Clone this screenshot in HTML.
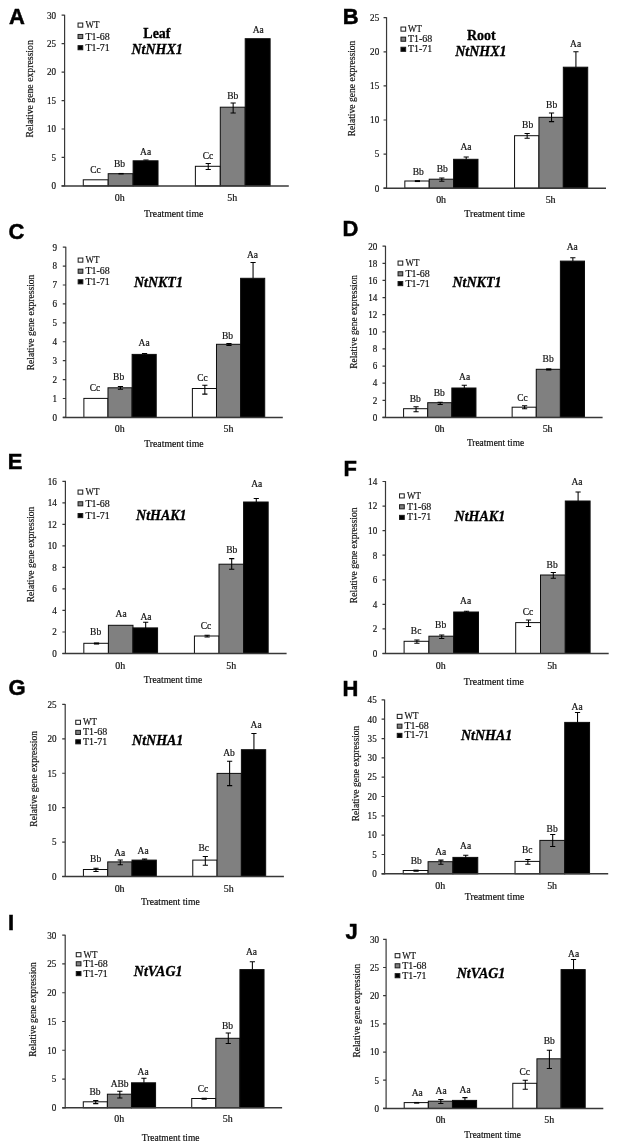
<!DOCTYPE html>
<html><head><meta charset="utf-8"><title>Figure</title>
<style>
html,body{margin:0;padding:0;background:#fff}
svg{display:block;will-change:transform}
text{fill:#111;stroke:#111;stroke-width:0.18px}
.r{font-family:"Liberation Serif", "Times New Roman", serif;font-size:9.3px}
.t{font-family:"Liberation Serif", "Times New Roman", serif;font-size:14px;font-weight:bold;fill:#000;stroke:#000;stroke-width:0.3px}
.bi{font-style:italic}
.yl{font-size:9.3px}
.L{font-family:"Liberation Sans", Arial, sans-serif;font-size:22.9px;font-weight:bold;fill:#000;stroke:#000;stroke-width:0.5px}
</style></head><body>
<svg width="633" height="1146" viewBox="0 0 633 1146">
<rect width="633" height="1146" fill="#fff"/>
<g><rect x="83.28" y="179.8" width="24.91" height="6.1" fill="#ffffff" stroke="#0d0d0d" stroke-width="1.0"/>
<rect x="108.19" y="173.7" width="24.91" height="12.2" fill="#808080" stroke="#0d0d0d" stroke-width="1.0"/>
<rect x="133.11" y="160.8" width="24.91" height="25.1" fill="#000000" stroke="#0d0d0d" stroke-width="1.0"/>
<rect x="195.38" y="166.3" width="24.91" height="19.6" fill="#ffffff" stroke="#0d0d0d" stroke-width="1.0"/>
<rect x="220.29" y="107.2" width="24.91" height="78.7" fill="#808080" stroke="#0d0d0d" stroke-width="1.0"/>
<rect x="245.21" y="38.7" width="24.91" height="147.2" fill="#000000" stroke="#0d0d0d" stroke-width="1.0"/>
<path d="M118.45 173.7H123.65" fill="none" stroke="#000" stroke-width="1.5"/>
<path d="M145.96 160V160.8M143.36 160H148.56" fill="none" stroke="#000" stroke-width="1.05"/>
<path d="M208.24 163.5V169.4M205.64 163.5H210.84M205.64 169.4H210.84" fill="none" stroke="#000" stroke-width="1.05"/>
<path d="M233.15 102.9V113M230.55 102.9H235.75M230.55 113H235.75" fill="none" stroke="#000" stroke-width="1.05"/>
<path d="M64.6 14.7V186.5M61.6 185.9H64.6M61.6 157.45H64.6M61.6 129H64.6M61.6 100.55H64.6M61.6 72.1H64.6M61.6 43.65H64.6M61.6 15.2H64.6" fill="none" stroke="#383838" stroke-width="1.2"/>
<path d="M61.6 185.9H288.8" fill="none" stroke="#383838" stroke-width="1.45"/>
<text class="r" text-anchor="end" transform="translate(56.1 189.2) scale(0.98 1)">0</text>
<text class="r" text-anchor="end" transform="translate(56.1 160.75) scale(0.98 1)">5</text>
<text class="r" text-anchor="end" transform="translate(56.1 132.3) scale(0.98 1)">10</text>
<text class="r" text-anchor="end" transform="translate(56.1 103.85) scale(0.98 1)">15</text>
<text class="r" text-anchor="end" transform="translate(56.1 75.4) scale(0.98 1)">20</text>
<text class="r" text-anchor="end" transform="translate(56.1 46.95) scale(0.98 1)">25</text>
<text class="r" text-anchor="end" transform="translate(56.1 18.5) scale(0.98 1)">30</text>
<rect x="78.05" y="23.05" width="4.7" height="4.1" fill="#ffffff" stroke="#1a1a1a" stroke-width="1"/>
<text class="r" text-anchor="start" transform="translate(85.5 28.15) scale(0.96 1)">WT</text>
<rect x="78.05" y="34.45" width="4.7" height="4.1" fill="#808080" stroke="#1a1a1a" stroke-width="1"/>
<text class="r" text-anchor="start" transform="translate(85.5 39.55) scale(1.07 1)">T1-68</text>
<rect x="78.05" y="45.65" width="4.7" height="4.1" fill="#000000" stroke="#1a1a1a" stroke-width="1"/>
<text class="r" text-anchor="start" transform="translate(85.5 50.75) scale(1.07 1)">T1-71</text>
<text class="t b" text-anchor="middle" transform="translate(156.9 38) scale(1 1)">Leaf</text>
<text class="t bi" text-anchor="middle" transform="translate(157.1 54.4) scale(1 1)">NtNHX1</text>
<text class="r" text-anchor="middle" transform="translate(95.4 173.4) scale(1.02 1)">Cc</text>
<text class="r" text-anchor="middle" transform="translate(119.4 167.3) scale(1.02 1)">Bb</text>
<text class="r" text-anchor="middle" transform="translate(145.6 154.5) scale(1.02 1)">Aa</text>
<text class="r" text-anchor="middle" transform="translate(207.9 159.3) scale(1.02 1)">Cc</text>
<text class="r" text-anchor="middle" transform="translate(232.7 98.6) scale(1.02 1)">Bb</text>
<text class="r" text-anchor="middle" transform="translate(258.3 32.9) scale(1.02 1)">Aa</text>
<text class="r" text-anchor="middle" transform="translate(119.7 200.5) scale(1.07 1)">0h</text>
<text class="r" text-anchor="middle" transform="translate(232.2 200.5) scale(1.07 1)">5h</text>
<text class="r" text-anchor="middle" transform="translate(173.7 217.2) scale(1.05 1)">Treatment time</text>
<text class="r yl" text-anchor="middle" transform="translate(32.8 88.9) rotate(-90) scale(1.05 1)">Relative gene expression</text>
<text class="L" text-anchor="start" transform="translate(9.1 23.7) scale(0.96 1)">A</text></g>
<g><rect x="404.84" y="181" width="24.38" height="7.2" fill="#ffffff" stroke="#0d0d0d" stroke-width="1.0"/>
<rect x="429.22" y="179.2" width="24.38" height="9" fill="#808080" stroke="#0d0d0d" stroke-width="1.0"/>
<rect x="453.6" y="159.3" width="24.38" height="28.9" fill="#000000" stroke="#0d0d0d" stroke-width="1.0"/>
<rect x="514.56" y="135.7" width="24.38" height="52.5" fill="#ffffff" stroke="#0d0d0d" stroke-width="1.0"/>
<rect x="538.95" y="117.3" width="24.38" height="70.9" fill="#808080" stroke="#0d0d0d" stroke-width="1.0"/>
<rect x="563.33" y="67.2" width="24.38" height="121" fill="#000000" stroke="#0d0d0d" stroke-width="1.0"/>
<path d="M414.83 181.1H420.03" fill="none" stroke="#000" stroke-width="1.9"/>
<path d="M441.81 178V181.2M439.21 178H444.41M439.21 181.2H444.41" fill="none" stroke="#000" stroke-width="1.05"/>
<path d="M466.2 157V159.3M463.6 157H468.8" fill="none" stroke="#000" stroke-width="1.05"/>
<path d="M527.15 133.5V138.3M524.55 133.5H529.75M524.55 138.3H529.75" fill="none" stroke="#000" stroke-width="1.05"/>
<path d="M551.54 113V121.6M548.94 113H554.14M548.94 121.6H554.14" fill="none" stroke="#000" stroke-width="1.05"/>
<path d="M575.92 51.8V67.2M573.32 51.8H578.52" fill="none" stroke="#000" stroke-width="1.05"/>
<path d="M386.55 17.2V188.8M383.55 188.2H386.55M383.55 154.1H386.55M383.55 120H386.55M383.55 85.9H386.55M383.55 51.8H386.55M383.55 17.7H386.55" fill="none" stroke="#383838" stroke-width="1.2"/>
<path d="M383.55 188.2H606" fill="none" stroke="#383838" stroke-width="1.45"/>
<text class="r" text-anchor="end" transform="translate(379.2 191.5) scale(0.98 1)">0</text>
<text class="r" text-anchor="end" transform="translate(379.2 157.4) scale(0.98 1)">5</text>
<text class="r" text-anchor="end" transform="translate(379.2 123.3) scale(0.98 1)">10</text>
<text class="r" text-anchor="end" transform="translate(379.2 89.2) scale(0.98 1)">15</text>
<text class="r" text-anchor="end" transform="translate(379.2 55.1) scale(0.98 1)">20</text>
<text class="r" text-anchor="end" transform="translate(379.2 21) scale(0.98 1)">25</text>
<rect x="400.95" y="27.05" width="4.7" height="4.1" fill="#ffffff" stroke="#1a1a1a" stroke-width="1"/>
<text class="r" text-anchor="start" transform="translate(408 32.15) scale(0.96 1)">WT</text>
<rect x="400.95" y="37.15" width="4.7" height="4.1" fill="#808080" stroke="#1a1a1a" stroke-width="1"/>
<text class="r" text-anchor="start" transform="translate(408 42.25) scale(1.07 1)">T1-68</text>
<rect x="400.95" y="47.25" width="4.7" height="4.1" fill="#000000" stroke="#1a1a1a" stroke-width="1"/>
<text class="r" text-anchor="start" transform="translate(408 52.35) scale(1.07 1)">T1-71</text>
<text class="t b" text-anchor="middle" transform="translate(481.3 39.9) scale(1 1)">Root</text>
<text class="t bi" text-anchor="middle" transform="translate(480.8 55.6) scale(1 1)">NtNHX1</text>
<text class="r" text-anchor="middle" transform="translate(418.3 174.7) scale(1.02 1)">Bb</text>
<text class="r" text-anchor="middle" transform="translate(442.3 172.4) scale(1.02 1)">Bb</text>
<text class="r" text-anchor="middle" transform="translate(465.9 150.4) scale(1.02 1)">Aa</text>
<text class="r" text-anchor="middle" transform="translate(527.6 127.7) scale(1.02 1)">Bb</text>
<text class="r" text-anchor="middle" transform="translate(551.6 107.7) scale(1.02 1)">Bb</text>
<text class="r" text-anchor="middle" transform="translate(575.6 47.3) scale(1.02 1)">Aa</text>
<text class="r" text-anchor="middle" transform="translate(441.1 203) scale(1.07 1)">0h</text>
<text class="r" text-anchor="middle" transform="translate(550.6 203) scale(1.07 1)">5h</text>
<text class="r" text-anchor="middle" transform="translate(494.7 217.2) scale(1.07 1)">Treatment time</text>
<text class="r yl" text-anchor="middle" transform="translate(354.8 88.5) rotate(-90) scale(1.03 1)">Relative gene expression</text>
<text class="L" text-anchor="start" transform="translate(342.77 23.7) scale(0.96 1)">B</text></g>
<g><rect x="83.88" y="398.4" width="24.11" height="19" fill="#ffffff" stroke="#0d0d0d" stroke-width="1.0"/>
<rect x="107.99" y="387.8" width="24.11" height="29.6" fill="#808080" stroke="#0d0d0d" stroke-width="1.0"/>
<rect x="132.11" y="354.4" width="24.11" height="63" fill="#000000" stroke="#0d0d0d" stroke-width="1.0"/>
<rect x="192.38" y="388.5" width="24.11" height="28.9" fill="#ffffff" stroke="#0d0d0d" stroke-width="1.0"/>
<rect x="216.49" y="344.3" width="24.11" height="73.1" fill="#808080" stroke="#0d0d0d" stroke-width="1.0"/>
<rect x="240.61" y="278.3" width="24.11" height="139.1" fill="#000000" stroke="#0d0d0d" stroke-width="1.0"/>
<path d="M120.45 386.5V389.3M117.85 386.5H123.05M117.85 389.3H123.05" fill="none" stroke="#000" stroke-width="1.05"/>
<path d="M144.56 353.4V354.4M141.96 353.4H147.16" fill="none" stroke="#000" stroke-width="1.05"/>
<path d="M204.84 385.2V394.1M202.24 385.2H207.44M202.24 394.1H207.44" fill="none" stroke="#000" stroke-width="1.05"/>
<path d="M228.95 343.6V345.5M226.35 343.6H231.55M226.35 345.5H231.55" fill="none" stroke="#000" stroke-width="1.05"/>
<path d="M253.06 262.4V278.3M250.46 262.4H255.66" fill="none" stroke="#000" stroke-width="1.05"/>
<path d="M65.8 246.7V418M62.8 417.4H65.8M62.8 398.49H65.8M62.8 379.58H65.8M62.8 360.67H65.8M62.8 341.76H65.8M62.8 322.84H65.8M62.8 303.93H65.8M62.8 285.02H65.8M62.8 266.11H65.8M62.8 247.2H65.8" fill="none" stroke="#383838" stroke-width="1.2"/>
<path d="M62.8 417.4H282.8" fill="none" stroke="#383838" stroke-width="1.45"/>
<text class="r" text-anchor="end" transform="translate(57.1 420.7) scale(0.98 1)">0</text>
<text class="r" text-anchor="end" transform="translate(57.1 401.79) scale(0.98 1)">1</text>
<text class="r" text-anchor="end" transform="translate(57.1 382.88) scale(0.98 1)">2</text>
<text class="r" text-anchor="end" transform="translate(57.1 363.97) scale(0.98 1)">3</text>
<text class="r" text-anchor="end" transform="translate(57.1 345.06) scale(0.98 1)">4</text>
<text class="r" text-anchor="end" transform="translate(57.1 326.14) scale(0.98 1)">5</text>
<text class="r" text-anchor="end" transform="translate(57.1 307.23) scale(0.98 1)">6</text>
<text class="r" text-anchor="end" transform="translate(57.1 288.32) scale(0.98 1)">7</text>
<text class="r" text-anchor="end" transform="translate(57.1 269.41) scale(0.98 1)">8</text>
<text class="r" text-anchor="end" transform="translate(57.1 250.5) scale(0.98 1)">9</text>
<rect x="78.15" y="258.05" width="4.7" height="4.1" fill="#ffffff" stroke="#1a1a1a" stroke-width="1"/>
<text class="r" text-anchor="start" transform="translate(85.5 263.15) scale(0.96 1)">WT</text>
<rect x="78.15" y="269.15" width="4.7" height="4.1" fill="#808080" stroke="#1a1a1a" stroke-width="1"/>
<text class="r" text-anchor="start" transform="translate(85.5 274.25) scale(1.07 1)">T1-68</text>
<rect x="78.15" y="279.75" width="4.7" height="4.1" fill="#000000" stroke="#1a1a1a" stroke-width="1"/>
<text class="r" text-anchor="start" transform="translate(85.5 284.85) scale(1.07 1)">T1-71</text>
<text class="t bi" text-anchor="middle" transform="translate(158.4 287.4) scale(1 1)">NtNKT1</text>
<text class="r" text-anchor="middle" transform="translate(95 391.3) scale(1.02 1)">Cc</text>
<text class="r" text-anchor="middle" transform="translate(118.6 380.4) scale(1.02 1)">Bb</text>
<text class="r" text-anchor="middle" transform="translate(144.1 346.3) scale(1.02 1)">Aa</text>
<text class="r" text-anchor="middle" transform="translate(202.5 380.9) scale(1.02 1)">Cc</text>
<text class="r" text-anchor="middle" transform="translate(227.5 338.5) scale(1.02 1)">Bb</text>
<text class="r" text-anchor="middle" transform="translate(252.5 257.6) scale(1.02 1)">Aa</text>
<text class="r" text-anchor="middle" transform="translate(119.8 432.3) scale(1.07 1)">0h</text>
<text class="r" text-anchor="middle" transform="translate(228.5 432.3) scale(1.07 1)">5h</text>
<text class="r" text-anchor="middle" transform="translate(173.9 446.7) scale(1.05 1)">Treatment time</text>
<text class="r yl" text-anchor="middle" transform="translate(33.8 322.5) rotate(-90) scale(1.03 1)">Relative gene expression</text>
<text class="L" text-anchor="start" transform="translate(8.39 238.8) scale(0.96 1)">C</text></g>
<g><rect x="403.59" y="408.7" width="24.12" height="8.7" fill="#ffffff" stroke="#0d0d0d" stroke-width="1.0"/>
<rect x="427.71" y="402.7" width="24.12" height="14.7" fill="#808080" stroke="#0d0d0d" stroke-width="1.0"/>
<rect x="451.84" y="388" width="24.12" height="29.4" fill="#000000" stroke="#0d0d0d" stroke-width="1.0"/>
<rect x="512.14" y="407.2" width="24.12" height="10.2" fill="#ffffff" stroke="#0d0d0d" stroke-width="1.0"/>
<rect x="536.26" y="369.3" width="24.12" height="48.1" fill="#808080" stroke="#0d0d0d" stroke-width="1.0"/>
<rect x="560.39" y="261.1" width="24.12" height="156.3" fill="#000000" stroke="#0d0d0d" stroke-width="1.0"/>
<path d="M416.05 406.7V411.8M413.45 406.7H418.65M413.45 411.8H418.65" fill="none" stroke="#000" stroke-width="1.05"/>
<path d="M440.18 402.2V404.4M437.57 402.2H442.78M437.57 404.4H442.78" fill="none" stroke="#000" stroke-width="1.05"/>
<path d="M464.3 385.2V388M461.7 385.2H466.9" fill="none" stroke="#000" stroke-width="1.05"/>
<path d="M524.6 405.7V408.7M522 405.7H527.2M522 408.7H527.2" fill="none" stroke="#000" stroke-width="1.05"/>
<path d="M546.12 369.45H551.33" fill="none" stroke="#000" stroke-width="2.2"/>
<path d="M572.85 257.8V261.1M570.25 257.8H575.45" fill="none" stroke="#000" stroke-width="1.05"/>
<path d="M385.5 245.7V418M382.5 417.4H385.5M382.5 400.28H385.5M382.5 383.16H385.5M382.5 366.04H385.5M382.5 348.92H385.5M382.5 331.8H385.5M382.5 314.68H385.5M382.5 297.56H385.5M382.5 280.44H385.5M382.5 263.32H385.5M382.5 246.2H385.5" fill="none" stroke="#383838" stroke-width="1.2"/>
<path d="M382.5 417.4H602.6" fill="none" stroke="#383838" stroke-width="1.45"/>
<text class="r" text-anchor="end" transform="translate(377.4 420.7) scale(0.98 1)">0</text>
<text class="r" text-anchor="end" transform="translate(377.4 403.58) scale(0.98 1)">2</text>
<text class="r" text-anchor="end" transform="translate(377.4 386.46) scale(0.98 1)">4</text>
<text class="r" text-anchor="end" transform="translate(377.4 369.34) scale(0.98 1)">6</text>
<text class="r" text-anchor="end" transform="translate(377.4 352.22) scale(0.98 1)">8</text>
<text class="r" text-anchor="end" transform="translate(377.4 335.1) scale(0.98 1)">10</text>
<text class="r" text-anchor="end" transform="translate(377.4 317.98) scale(0.98 1)">12</text>
<text class="r" text-anchor="end" transform="translate(377.4 300.86) scale(0.98 1)">14</text>
<text class="r" text-anchor="end" transform="translate(377.4 283.74) scale(0.98 1)">16</text>
<text class="r" text-anchor="end" transform="translate(377.4 266.62) scale(0.98 1)">18</text>
<text class="r" text-anchor="end" transform="translate(377.4 249.5) scale(0.98 1)">20</text>
<rect x="398.05" y="261.05" width="4.7" height="4.1" fill="#ffffff" stroke="#1a1a1a" stroke-width="1"/>
<text class="r" text-anchor="start" transform="translate(405.5 266.15) scale(0.96 1)">WT</text>
<rect x="398.05" y="271.75" width="4.7" height="4.1" fill="#808080" stroke="#1a1a1a" stroke-width="1"/>
<text class="r" text-anchor="start" transform="translate(405.5 276.85) scale(1.07 1)">T1-68</text>
<rect x="398.05" y="281.55" width="4.7" height="4.1" fill="#000000" stroke="#1a1a1a" stroke-width="1"/>
<text class="r" text-anchor="start" transform="translate(405.5 286.65) scale(1.07 1)">T1-71</text>
<text class="t bi" text-anchor="middle" transform="translate(477 286.6) scale(1 1)">NtNKT1</text>
<text class="r" text-anchor="middle" transform="translate(415.3 402.4) scale(1.02 1)">Bb</text>
<text class="r" text-anchor="middle" transform="translate(439.3 395.6) scale(1.02 1)">Bb</text>
<text class="r" text-anchor="middle" transform="translate(464.6 379.7) scale(1.02 1)">Aa</text>
<text class="r" text-anchor="middle" transform="translate(522.5 401.2) scale(1.02 1)">Cc</text>
<text class="r" text-anchor="middle" transform="translate(548.1 361.5) scale(1.02 1)">Bb</text>
<text class="r" text-anchor="middle" transform="translate(572.3 249.7) scale(1.02 1)">Aa</text>
<text class="r" text-anchor="middle" transform="translate(439.6 432.3) scale(1.07 1)">0h</text>
<text class="r" text-anchor="middle" transform="translate(547.6 432.3) scale(1.07 1)">5h</text>
<text class="r" text-anchor="middle" transform="translate(495.5 445.7) scale(1.01 1)">Treatment time</text>
<text class="r yl" text-anchor="middle" transform="translate(356.9 321.8) rotate(-90) scale(1.01 1)">Relative gene expression</text>
<text class="L" text-anchor="start" transform="translate(342.47 236.2) scale(0.96 1)">D</text></g>
<g><rect x="83.83" y="643.3" width="24.58" height="10.2" fill="#ffffff" stroke="#0d0d0d" stroke-width="1.0"/>
<rect x="108.41" y="625.3" width="24.58" height="28.2" fill="#808080" stroke="#0d0d0d" stroke-width="1.0"/>
<rect x="132.99" y="627.9" width="24.58" height="25.6" fill="#000000" stroke="#0d0d0d" stroke-width="1.0"/>
<rect x="194.43" y="636" width="24.58" height="17.5" fill="#ffffff" stroke="#0d0d0d" stroke-width="1.0"/>
<rect x="219.01" y="564.2" width="24.58" height="89.3" fill="#808080" stroke="#0d0d0d" stroke-width="1.0"/>
<rect x="243.59" y="502" width="24.58" height="151.5" fill="#000000" stroke="#0d0d0d" stroke-width="1.0"/>
<path d="M93.92 643.5H99.12" fill="none" stroke="#000" stroke-width="2.1"/>
<path d="M145.68 622.3V627.9M143.08 622.3H148.28" fill="none" stroke="#000" stroke-width="1.05"/>
<path d="M207.12 635.3V637M204.52 635.3H209.72M204.52 637H209.72" fill="none" stroke="#000" stroke-width="1.05"/>
<path d="M231.7 558.6V569.2M229.1 558.6H234.3M229.1 569.2H234.3" fill="none" stroke="#000" stroke-width="1.05"/>
<path d="M256.28 498.4V502M253.68 498.4H258.88" fill="none" stroke="#000" stroke-width="1.05"/>
<path d="M65.4 480.8V654.1M62.4 653.5H65.4M62.4 631.98H65.4M62.4 610.45H65.4M62.4 588.92H65.4M62.4 567.4H65.4M62.4 545.88H65.4M62.4 524.35H65.4M62.4 502.83H65.4M62.4 481.3H65.4" fill="none" stroke="#383838" stroke-width="1.2"/>
<path d="M62.4 653.5H286.6" fill="none" stroke="#383838" stroke-width="1.45"/>
<text class="r" text-anchor="end" transform="translate(56.9 656.8) scale(0.98 1)">0</text>
<text class="r" text-anchor="end" transform="translate(56.9 635.27) scale(0.98 1)">2</text>
<text class="r" text-anchor="end" transform="translate(56.9 613.75) scale(0.98 1)">4</text>
<text class="r" text-anchor="end" transform="translate(56.9 592.22) scale(0.98 1)">6</text>
<text class="r" text-anchor="end" transform="translate(56.9 570.7) scale(0.98 1)">8</text>
<text class="r" text-anchor="end" transform="translate(56.9 549.17) scale(0.98 1)">10</text>
<text class="r" text-anchor="end" transform="translate(56.9 527.65) scale(0.98 1)">12</text>
<text class="r" text-anchor="end" transform="translate(56.9 506.13) scale(0.98 1)">14</text>
<text class="r" text-anchor="end" transform="translate(56.9 484.6) scale(0.98 1)">16</text>
<rect x="78.05" y="490.05" width="4.7" height="4.1" fill="#ffffff" stroke="#1a1a1a" stroke-width="1"/>
<text class="r" text-anchor="start" transform="translate(85.5 495.15) scale(0.96 1)">WT</text>
<rect x="78.05" y="501.75" width="4.7" height="4.1" fill="#808080" stroke="#1a1a1a" stroke-width="1"/>
<text class="r" text-anchor="start" transform="translate(85.5 506.85) scale(1.07 1)">T1-68</text>
<rect x="78.05" y="513.55" width="4.7" height="4.1" fill="#000000" stroke="#1a1a1a" stroke-width="1"/>
<text class="r" text-anchor="start" transform="translate(85.5 518.65) scale(1.07 1)">T1-71</text>
<text class="t bi" text-anchor="middle" transform="translate(161.3 520.2) scale(1 1)">NtHAK1</text>
<text class="r" text-anchor="middle" transform="translate(95.6 634.9) scale(1.02 1)">Bb</text>
<text class="r" text-anchor="middle" transform="translate(121.1 616.7) scale(1.02 1)">Aa</text>
<text class="r" text-anchor="middle" transform="translate(145.9 619.8) scale(1.02 1)">Aa</text>
<text class="r" text-anchor="middle" transform="translate(206 628.6) scale(1.02 1)">Cc</text>
<text class="r" text-anchor="middle" transform="translate(231.8 552.8) scale(1.02 1)">Bb</text>
<text class="r" text-anchor="middle" transform="translate(256.8 486.6) scale(1.02 1)">Aa</text>
<text class="r" text-anchor="middle" transform="translate(120.3 669.1) scale(1.07 1)">0h</text>
<text class="r" text-anchor="middle" transform="translate(231.3 669.1) scale(1.07 1)">5h</text>
<text class="r" text-anchor="middle" transform="translate(173 683.3) scale(1.03 1)">Treatment time</text>
<text class="r yl" text-anchor="middle" transform="translate(33.8 554.5) rotate(-90) scale(1.03 1)">Relative gene expression</text>
<text class="L" text-anchor="start" transform="translate(7.77 468.9) scale(0.96 1)">E</text></g>
<g><rect x="404.1" y="641.3" width="24.8" height="12.2" fill="#ffffff" stroke="#0d0d0d" stroke-width="1.0"/>
<rect x="428.9" y="636.2" width="24.8" height="17.3" fill="#808080" stroke="#0d0d0d" stroke-width="1.0"/>
<rect x="453.7" y="612" width="24.8" height="41.5" fill="#000000" stroke="#0d0d0d" stroke-width="1.0"/>
<rect x="515.7" y="622.6" width="24.8" height="30.9" fill="#ffffff" stroke="#0d0d0d" stroke-width="1.0"/>
<rect x="540.5" y="575" width="24.8" height="78.5" fill="#808080" stroke="#0d0d0d" stroke-width="1.0"/>
<rect x="565.3" y="501" width="24.8" height="152.5" fill="#000000" stroke="#0d0d0d" stroke-width="1.0"/>
<path d="M416.9 640V643.3M414.3 640H419.5M414.3 643.3H419.5" fill="none" stroke="#000" stroke-width="1.05"/>
<path d="M441.7 635V638.5M439.1 635H444.3M439.1 638.5H444.3" fill="none" stroke="#000" stroke-width="1.05"/>
<path d="M466.5 611.2V612M463.9 611.2H469.1" fill="none" stroke="#000" stroke-width="1.05"/>
<path d="M528.5 620V626.4M525.9 620H531.1M525.9 626.4H531.1" fill="none" stroke="#000" stroke-width="1.05"/>
<path d="M553.3 572.5V578.3M550.7 572.5H555.9M550.7 578.3H555.9" fill="none" stroke="#000" stroke-width="1.05"/>
<path d="M578.1 491.9V501M575.5 491.9H580.7" fill="none" stroke="#000" stroke-width="1.05"/>
<path d="M385.5 481V654.1M382.5 653.5H385.5M382.5 628.93H385.5M382.5 604.36H385.5M382.5 579.79H385.5M382.5 555.21H385.5M382.5 530.64H385.5M382.5 506.07H385.5M382.5 481.5H385.5" fill="none" stroke="#383838" stroke-width="1.2"/>
<path d="M382.5 653.5H608.7" fill="none" stroke="#383838" stroke-width="1.45"/>
<text class="r" text-anchor="end" transform="translate(377.2 656.8) scale(0.98 1)">0</text>
<text class="r" text-anchor="end" transform="translate(377.2 632.23) scale(0.98 1)">2</text>
<text class="r" text-anchor="end" transform="translate(377.2 607.66) scale(0.98 1)">4</text>
<text class="r" text-anchor="end" transform="translate(377.2 583.09) scale(0.98 1)">6</text>
<text class="r" text-anchor="end" transform="translate(377.2 558.51) scale(0.98 1)">8</text>
<text class="r" text-anchor="end" transform="translate(377.2 533.94) scale(0.98 1)">10</text>
<text class="r" text-anchor="end" transform="translate(377.2 509.37) scale(0.98 1)">12</text>
<text class="r" text-anchor="end" transform="translate(377.2 484.8) scale(0.98 1)">14</text>
<rect x="399.55" y="493.85" width="4.7" height="4.1" fill="#ffffff" stroke="#1a1a1a" stroke-width="1"/>
<text class="r" text-anchor="start" transform="translate(407 498.95) scale(0.96 1)">WT</text>
<rect x="399.55" y="504.75" width="4.7" height="4.1" fill="#808080" stroke="#1a1a1a" stroke-width="1"/>
<text class="r" text-anchor="start" transform="translate(407 509.85) scale(1.07 1)">T1-68</text>
<rect x="399.55" y="515.35" width="4.7" height="4.1" fill="#000000" stroke="#1a1a1a" stroke-width="1"/>
<text class="r" text-anchor="start" transform="translate(407 520.45) scale(1.07 1)">T1-71</text>
<text class="t bi" text-anchor="middle" transform="translate(479.9 521.3) scale(1 1)">NtHAK1</text>
<text class="r" text-anchor="middle" transform="translate(416.1 634.2) scale(1.02 1)">Bc</text>
<text class="r" text-anchor="middle" transform="translate(440.6 628.1) scale(1.02 1)">Bb</text>
<text class="r" text-anchor="middle" transform="translate(465.6 604.1) scale(1.02 1)">Aa</text>
<text class="r" text-anchor="middle" transform="translate(527.9 615.2) scale(1.02 1)">Cc</text>
<text class="r" text-anchor="middle" transform="translate(552.1 568.2) scale(1.02 1)">Bb</text>
<text class="r" text-anchor="middle" transform="translate(576.9 485) scale(1.02 1)">Aa</text>
<text class="r" text-anchor="middle" transform="translate(440.8 669.1) scale(1.07 1)">0h</text>
<text class="r" text-anchor="middle" transform="translate(552.1 669.1) scale(1.07 1)">5h</text>
<text class="r" text-anchor="middle" transform="translate(493.9 684.5) scale(1.06 1)">Treatment time</text>
<text class="r yl" text-anchor="middle" transform="translate(356.9 555.3) rotate(-90) scale(1.03 1)">Relative gene expression</text>
<text class="L" text-anchor="start" transform="translate(343.47 475.9) scale(0.96 1)">F</text></g>
<g><rect x="83.42" y="869.5" width="24.3" height="7" fill="#ffffff" stroke="#0d0d0d" stroke-width="1.0"/>
<rect x="107.72" y="861.9" width="24.3" height="14.6" fill="#808080" stroke="#0d0d0d" stroke-width="1.0"/>
<rect x="132.02" y="860.1" width="24.3" height="16.4" fill="#000000" stroke="#0d0d0d" stroke-width="1.0"/>
<rect x="192.78" y="860.1" width="24.3" height="16.4" fill="#ffffff" stroke="#0d0d0d" stroke-width="1.0"/>
<rect x="217.07" y="773.4" width="24.3" height="103.1" fill="#808080" stroke="#0d0d0d" stroke-width="1.0"/>
<rect x="241.38" y="749.7" width="24.3" height="126.8" fill="#000000" stroke="#0d0d0d" stroke-width="1.0"/>
<path d="M95.97 868.2V871.5M93.38 868.2H98.57M93.38 871.5H98.57" fill="none" stroke="#000" stroke-width="1.05"/>
<path d="M120.28 859.9V864.7M117.68 859.9H122.88M117.68 864.7H122.88" fill="none" stroke="#000" stroke-width="1.05"/>
<path d="M144.57 859.1V860.1M141.97 859.1H147.17" fill="none" stroke="#000" stroke-width="1.05"/>
<path d="M205.33 856.4V865.2M202.73 856.4H207.93M202.73 865.2H207.93" fill="none" stroke="#000" stroke-width="1.05"/>
<path d="M229.62 761.3V785.6M227.03 761.3H232.22M227.03 785.6H232.22" fill="none" stroke="#000" stroke-width="1.05"/>
<path d="M253.93 733.5V749.7M251.33 733.5H256.53" fill="none" stroke="#000" stroke-width="1.05"/>
<path d="M65.2 703.9V877.1M62.2 876.5H65.2M62.2 842.08H65.2M62.2 807.66H65.2M62.2 773.24H65.2M62.2 738.82H65.2M62.2 704.4H65.2" fill="none" stroke="#383838" stroke-width="1.2"/>
<path d="M62.2 876.5H283.9" fill="none" stroke="#383838" stroke-width="1.45"/>
<text class="r" text-anchor="end" transform="translate(56.6 879.8) scale(0.98 1)">0</text>
<text class="r" text-anchor="end" transform="translate(56.6 845.38) scale(0.98 1)">5</text>
<text class="r" text-anchor="end" transform="translate(56.6 810.96) scale(0.98 1)">10</text>
<text class="r" text-anchor="end" transform="translate(56.6 776.54) scale(0.98 1)">15</text>
<text class="r" text-anchor="end" transform="translate(56.6 742.12) scale(0.98 1)">20</text>
<text class="r" text-anchor="end" transform="translate(56.6 707.7) scale(0.98 1)">25</text>
<rect x="75.75" y="720.25" width="4.7" height="4.1" fill="#ffffff" stroke="#1a1a1a" stroke-width="1"/>
<text class="r" text-anchor="start" transform="translate(83 725.35) scale(0.96 1)">WT</text>
<rect x="75.75" y="730.35" width="4.7" height="4.1" fill="#808080" stroke="#1a1a1a" stroke-width="1"/>
<text class="r" text-anchor="start" transform="translate(83 735.45) scale(1.07 1)">T1-68</text>
<rect x="75.75" y="739.75" width="4.7" height="4.1" fill="#000000" stroke="#1a1a1a" stroke-width="1"/>
<text class="r" text-anchor="start" transform="translate(83 744.85) scale(1.07 1)">T1-71</text>
<text class="t bi" text-anchor="middle" transform="translate(157.7 745.4) scale(1 1)">NtNHA1</text>
<text class="r" text-anchor="middle" transform="translate(95.6 861.9) scale(1.02 1)">Bb</text>
<text class="r" text-anchor="middle" transform="translate(119.8 856.1) scale(1.02 1)">Aa</text>
<text class="r" text-anchor="middle" transform="translate(143.1 853.6) scale(1.02 1)">Aa</text>
<text class="r" text-anchor="middle" transform="translate(203.7 850.5) scale(1.02 1)">Bc</text>
<text class="r" text-anchor="middle" transform="translate(229 755.7) scale(1.02 1)">Ab</text>
<text class="r" text-anchor="middle" transform="translate(256.1 727.7) scale(1.02 1)">Aa</text>
<text class="r" text-anchor="middle" transform="translate(119.6 891.8) scale(1.07 1)">0h</text>
<text class="r" text-anchor="middle" transform="translate(228.8 891.8) scale(1.07 1)">5h</text>
<text class="r" text-anchor="middle" transform="translate(170.4 905.4) scale(1.04 1)">Treatment time</text>
<text class="r yl" text-anchor="middle" transform="translate(36.9 778.8) rotate(-90) scale(1.03 1)">Relative gene expression</text>
<text class="L" text-anchor="start" transform="translate(8.39 694.8) scale(0.96 1)">G</text></g>
<g><rect x="403.23" y="870.5" width="24.84" height="3.3" fill="#ffffff" stroke="#0d0d0d" stroke-width="1.0"/>
<rect x="428.08" y="861.7" width="24.84" height="12.1" fill="#808080" stroke="#0d0d0d" stroke-width="1.0"/>
<rect x="452.92" y="857.4" width="24.84" height="16.4" fill="#000000" stroke="#0d0d0d" stroke-width="1.0"/>
<rect x="515.03" y="861.4" width="24.84" height="12.4" fill="#ffffff" stroke="#0d0d0d" stroke-width="1.0"/>
<rect x="539.88" y="840.4" width="24.84" height="33.4" fill="#808080" stroke="#0d0d0d" stroke-width="1.0"/>
<rect x="564.72" y="722.4" width="24.84" height="151.4" fill="#000000" stroke="#0d0d0d" stroke-width="1.0"/>
<path d="M413.46 870.7H418.66" fill="none" stroke="#000" stroke-width="2.1"/>
<path d="M440.9 860.1V864.2M438.3 860.1H443.5M438.3 864.2H443.5" fill="none" stroke="#000" stroke-width="1.05"/>
<path d="M465.74 855.3V857.4M463.14 855.3H468.34" fill="none" stroke="#000" stroke-width="1.05"/>
<path d="M527.86 859.4V864.2M525.26 859.4H530.46M525.26 864.2H530.46" fill="none" stroke="#000" stroke-width="1.05"/>
<path d="M552.7 834.4V846.5M550.1 834.4H555.3M550.1 846.5H555.3" fill="none" stroke="#000" stroke-width="1.05"/>
<path d="M577.54 712.5V722.4M574.94 712.5H580.14" fill="none" stroke="#000" stroke-width="1.05"/>
<path d="M384.6 699.4V874.4M381.6 873.8H384.6M381.6 854.48H384.6M381.6 835.16H384.6M381.6 815.83H384.6M381.6 796.51H384.6M381.6 777.19H384.6M381.6 757.87H384.6M381.6 738.54H384.6M381.6 719.22H384.6M381.6 699.9H384.6" fill="none" stroke="#383838" stroke-width="1.2"/>
<path d="M381.6 873.8H608.2" fill="none" stroke="#383838" stroke-width="1.45"/>
<text class="r" text-anchor="end" transform="translate(376.7 877.1) scale(0.98 1)">0</text>
<text class="r" text-anchor="end" transform="translate(376.7 857.78) scale(0.98 1)">5</text>
<text class="r" text-anchor="end" transform="translate(376.7 838.46) scale(0.98 1)">10</text>
<text class="r" text-anchor="end" transform="translate(376.7 819.13) scale(0.98 1)">15</text>
<text class="r" text-anchor="end" transform="translate(376.7 799.81) scale(0.98 1)">20</text>
<text class="r" text-anchor="end" transform="translate(376.7 780.49) scale(0.98 1)">25</text>
<text class="r" text-anchor="end" transform="translate(376.7 761.17) scale(0.98 1)">30</text>
<text class="r" text-anchor="end" transform="translate(376.7 741.84) scale(0.98 1)">35</text>
<text class="r" text-anchor="end" transform="translate(376.7 722.52) scale(0.98 1)">40</text>
<text class="r" text-anchor="end" transform="translate(376.7 703.2) scale(0.98 1)">45</text>
<rect x="397.25" y="714.35" width="4.7" height="4.1" fill="#ffffff" stroke="#1a1a1a" stroke-width="1"/>
<text class="r" text-anchor="start" transform="translate(404.5 719.45) scale(0.96 1)">WT</text>
<rect x="397.25" y="724.15" width="4.7" height="4.1" fill="#808080" stroke="#1a1a1a" stroke-width="1"/>
<text class="r" text-anchor="start" transform="translate(404.5 729.25) scale(1.07 1)">T1-68</text>
<rect x="397.25" y="733.35" width="4.7" height="4.1" fill="#000000" stroke="#1a1a1a" stroke-width="1"/>
<text class="r" text-anchor="start" transform="translate(404.5 738.45) scale(1.07 1)">T1-71</text>
<text class="t bi" text-anchor="middle" transform="translate(486.6 739.9) scale(1 1)">NtNHA1</text>
<text class="r" text-anchor="middle" transform="translate(416.3 863.7) scale(1.02 1)">Bb</text>
<text class="r" text-anchor="middle" transform="translate(440.8 854.8) scale(1.02 1)">Aa</text>
<text class="r" text-anchor="middle" transform="translate(465.6 848.8) scale(1.02 1)">Aa</text>
<text class="r" text-anchor="middle" transform="translate(527.3 853.2) scale(1.02 1)">Bc</text>
<text class="r" text-anchor="middle" transform="translate(552.1 831.8) scale(1.02 1)">Bb</text>
<text class="r" text-anchor="middle" transform="translate(577.1 709.5) scale(1.02 1)">Aa</text>
<text class="r" text-anchor="middle" transform="translate(440.3 888.5) scale(1.07 1)">0h</text>
<text class="r" text-anchor="middle" transform="translate(552.1 888.5) scale(1.07 1)">5h</text>
<text class="r" text-anchor="middle" transform="translate(494.6 900.1) scale(1.05 1)">Treatment time</text>
<text class="r yl" text-anchor="middle" transform="translate(359.4 773.5) rotate(-90) scale(1.03 1)">Relative gene expression</text>
<text class="L" text-anchor="start" transform="translate(342.47 696.3) scale(0.96 1)">H</text></g>
<g><rect x="83.28" y="1101.8" width="24.1" height="6" fill="#ffffff" stroke="#0d0d0d" stroke-width="1.0"/>
<rect x="107.38" y="1094.2" width="24.1" height="13.6" fill="#808080" stroke="#0d0d0d" stroke-width="1.0"/>
<rect x="131.48" y="1082.8" width="24.1" height="25" fill="#000000" stroke="#0d0d0d" stroke-width="1.0"/>
<rect x="191.73" y="1098.5" width="24.1" height="9.3" fill="#ffffff" stroke="#0d0d0d" stroke-width="1.0"/>
<rect x="215.83" y="1038.3" width="24.1" height="69.5" fill="#808080" stroke="#0d0d0d" stroke-width="1.0"/>
<rect x="239.93" y="969.6" width="24.1" height="138.2" fill="#000000" stroke="#0d0d0d" stroke-width="1.0"/>
<path d="M95.73 1100.5V1103.6M93.13 1100.5H98.33M93.13 1103.6H98.33" fill="none" stroke="#000" stroke-width="1.05"/>
<path d="M119.83 1091.2V1098M117.23 1091.2H122.43M117.23 1098H122.43" fill="none" stroke="#000" stroke-width="1.05"/>
<path d="M143.93 1078.3V1082.8M141.33 1078.3H146.53" fill="none" stroke="#000" stroke-width="1.05"/>
<path d="M201.58 1098.75H206.78" fill="none" stroke="#000" stroke-width="2"/>
<path d="M228.28 1033V1043.4M225.68 1033H230.88M225.68 1043.4H230.88" fill="none" stroke="#000" stroke-width="1.05"/>
<path d="M252.38 961.8V969.6M249.78 961.8H254.98" fill="none" stroke="#000" stroke-width="1.05"/>
<path d="M65.2 934.7V1108.4M62.2 1107.8H65.2M62.2 1079.03H65.2M62.2 1050.27H65.2M62.2 1021.5H65.2M62.2 992.73H65.2M62.2 963.97H65.2M62.2 935.2H65.2" fill="none" stroke="#383838" stroke-width="1.2"/>
<path d="M62.2 1107.8H282.1" fill="none" stroke="#383838" stroke-width="1.45"/>
<text class="r" text-anchor="end" transform="translate(56.4 1111.1) scale(0.98 1)">0</text>
<text class="r" text-anchor="end" transform="translate(56.4 1082.33) scale(0.98 1)">5</text>
<text class="r" text-anchor="end" transform="translate(56.4 1053.57) scale(0.98 1)">10</text>
<text class="r" text-anchor="end" transform="translate(56.4 1024.8) scale(0.98 1)">15</text>
<text class="r" text-anchor="end" transform="translate(56.4 996.03) scale(0.98 1)">20</text>
<text class="r" text-anchor="end" transform="translate(56.4 967.27) scale(0.98 1)">25</text>
<text class="r" text-anchor="end" transform="translate(56.4 938.5) scale(0.98 1)">30</text>
<rect x="76.25" y="952.65" width="4.7" height="4.1" fill="#ffffff" stroke="#1a1a1a" stroke-width="1"/>
<text class="r" text-anchor="start" transform="translate(83.5 957.75) scale(0.96 1)">WT</text>
<rect x="76.25" y="961.75" width="4.7" height="4.1" fill="#808080" stroke="#1a1a1a" stroke-width="1"/>
<text class="r" text-anchor="start" transform="translate(83.5 966.85) scale(1.07 1)">T1-68</text>
<rect x="76.25" y="971.55" width="4.7" height="4.1" fill="#000000" stroke="#1a1a1a" stroke-width="1"/>
<text class="r" text-anchor="start" transform="translate(83.5 976.65) scale(1.07 1)">T1-71</text>
<text class="t bi" text-anchor="middle" transform="translate(158.2 975.8) scale(1 1)">NtVAG1</text>
<text class="r" text-anchor="middle" transform="translate(95 1095.2) scale(1.02 1)">Bb</text>
<text class="r" text-anchor="middle" transform="translate(119.6 1087.4) scale(1.02 1)">ABb</text>
<text class="r" text-anchor="middle" transform="translate(143.1 1074.7) scale(1.02 1)">Aa</text>
<text class="r" text-anchor="middle" transform="translate(203 1091.7) scale(1.02 1)">Cc</text>
<text class="r" text-anchor="middle" transform="translate(227.5 1029.2) scale(1.02 1)">Bb</text>
<text class="r" text-anchor="middle" transform="translate(251.5 954.7) scale(1.02 1)">Aa</text>
<text class="r" text-anchor="middle" transform="translate(119.3 1122.3) scale(1.07 1)">0h</text>
<text class="r" text-anchor="middle" transform="translate(227.7 1122.3) scale(1.07 1)">5h</text>
<text class="r" text-anchor="middle" transform="translate(170.6 1140.5) scale(1.02 1)">Treatment time</text>
<text class="r yl" text-anchor="middle" transform="translate(36.4 1009.5) rotate(-90) scale(1.02 1)">Relative gene expression</text>
<text class="L" text-anchor="start" transform="translate(7.95 929.8) scale(0.96 1)">I</text></g>
<g><rect x="404.2" y="1102.6" width="24.13" height="5.8" fill="#ffffff" stroke="#0d0d0d" stroke-width="1.0"/>
<rect x="428.33" y="1101.2" width="24.13" height="7.2" fill="#808080" stroke="#0d0d0d" stroke-width="1.0"/>
<rect x="452.47" y="1100.4" width="24.13" height="8" fill="#000000" stroke="#0d0d0d" stroke-width="1.0"/>
<rect x="512.8" y="1083.3" width="24.13" height="25.1" fill="#ffffff" stroke="#0d0d0d" stroke-width="1.0"/>
<rect x="536.93" y="1058.8" width="24.13" height="49.6" fill="#808080" stroke="#0d0d0d" stroke-width="1.0"/>
<rect x="561.07" y="969.6" width="24.13" height="138.8" fill="#000000" stroke="#0d0d0d" stroke-width="1.0"/>
<path d="M414.07 1102.8H419.27" fill="none" stroke="#000" stroke-width="1.7"/>
<path d="M440.8 1099.5V1103.5M438.2 1099.5H443.4M438.2 1103.5H443.4" fill="none" stroke="#000" stroke-width="1.05"/>
<path d="M464.93 1097.6V1100.4M462.33 1097.6H467.53" fill="none" stroke="#000" stroke-width="1.05"/>
<path d="M525.27 1080.3V1089.2M522.67 1080.3H527.87M522.67 1089.2H527.87" fill="none" stroke="#000" stroke-width="1.05"/>
<path d="M549.4 1050.2V1068.4M546.8 1050.2H552M546.8 1068.4H552" fill="none" stroke="#000" stroke-width="1.05"/>
<path d="M573.53 959.5V969.6M570.93 959.5H576.13" fill="none" stroke="#000" stroke-width="1.05"/>
<path d="M386.1 938.8V1109M383.1 1108.4H386.1M383.1 1080.22H386.1M383.1 1052.03H386.1M383.1 1023.85H386.1M383.1 995.67H386.1M383.1 967.48H386.1M383.1 939.3H386.1" fill="none" stroke="#383838" stroke-width="1.2"/>
<path d="M383.1 1108.4H603.3" fill="none" stroke="#383838" stroke-width="1.45"/>
<text class="r" text-anchor="end" transform="translate(379 1111.7) scale(0.98 1)">0</text>
<text class="r" text-anchor="end" transform="translate(379 1083.52) scale(0.98 1)">5</text>
<text class="r" text-anchor="end" transform="translate(379 1055.33) scale(0.98 1)">10</text>
<text class="r" text-anchor="end" transform="translate(379 1027.15) scale(0.98 1)">15</text>
<text class="r" text-anchor="end" transform="translate(379 998.97) scale(0.98 1)">20</text>
<text class="r" text-anchor="end" transform="translate(379 970.78) scale(0.98 1)">25</text>
<text class="r" text-anchor="end" transform="translate(379 942.6) scale(0.98 1)">30</text>
<rect x="395.15" y="953.65" width="4.7" height="4.1" fill="#ffffff" stroke="#1a1a1a" stroke-width="1"/>
<text class="r" text-anchor="start" transform="translate(402.2 958.75) scale(0.96 1)">WT</text>
<rect x="395.15" y="963.75" width="4.7" height="4.1" fill="#808080" stroke="#1a1a1a" stroke-width="1"/>
<text class="r" text-anchor="start" transform="translate(402.2 968.85) scale(1.07 1)">T1-68</text>
<rect x="395.15" y="973.65" width="4.7" height="4.1" fill="#000000" stroke="#1a1a1a" stroke-width="1"/>
<text class="r" text-anchor="start" transform="translate(402.2 978.75) scale(1.07 1)">T1-71</text>
<text class="t bi" text-anchor="middle" transform="translate(481 978.4) scale(1 1)">NtVAG1</text>
<text class="r" text-anchor="middle" transform="translate(417.3 1096.2) scale(1.02 1)">Aa</text>
<text class="r" text-anchor="middle" transform="translate(441.1 1094) scale(1.02 1)">Aa</text>
<text class="r" text-anchor="middle" transform="translate(465.1 1093.3) scale(1.02 1)">Aa</text>
<text class="r" text-anchor="middle" transform="translate(524.8 1074.7) scale(1.02 1)">Cc</text>
<text class="r" text-anchor="middle" transform="translate(549.3 1044.4) scale(1.02 1)">Bb</text>
<text class="r" text-anchor="middle" transform="translate(573.6 957) scale(1.02 1)">Aa</text>
<text class="r" text-anchor="middle" transform="translate(440.6 1122.8) scale(1.07 1)">0h</text>
<text class="r" text-anchor="middle" transform="translate(549.3 1122.8) scale(1.07 1)">5h</text>
<text class="r" text-anchor="middle" transform="translate(492.6 1138) scale(1 1)">Treatment time</text>
<text class="r yl" text-anchor="middle" transform="translate(359.9 1010.6) rotate(-90) scale(1.01 1)">Relative gene expression</text>
<text class="L" text-anchor="start" transform="translate(345.52 939) scale(0.96 1)">J</text></g>
</svg>
</body></html>
